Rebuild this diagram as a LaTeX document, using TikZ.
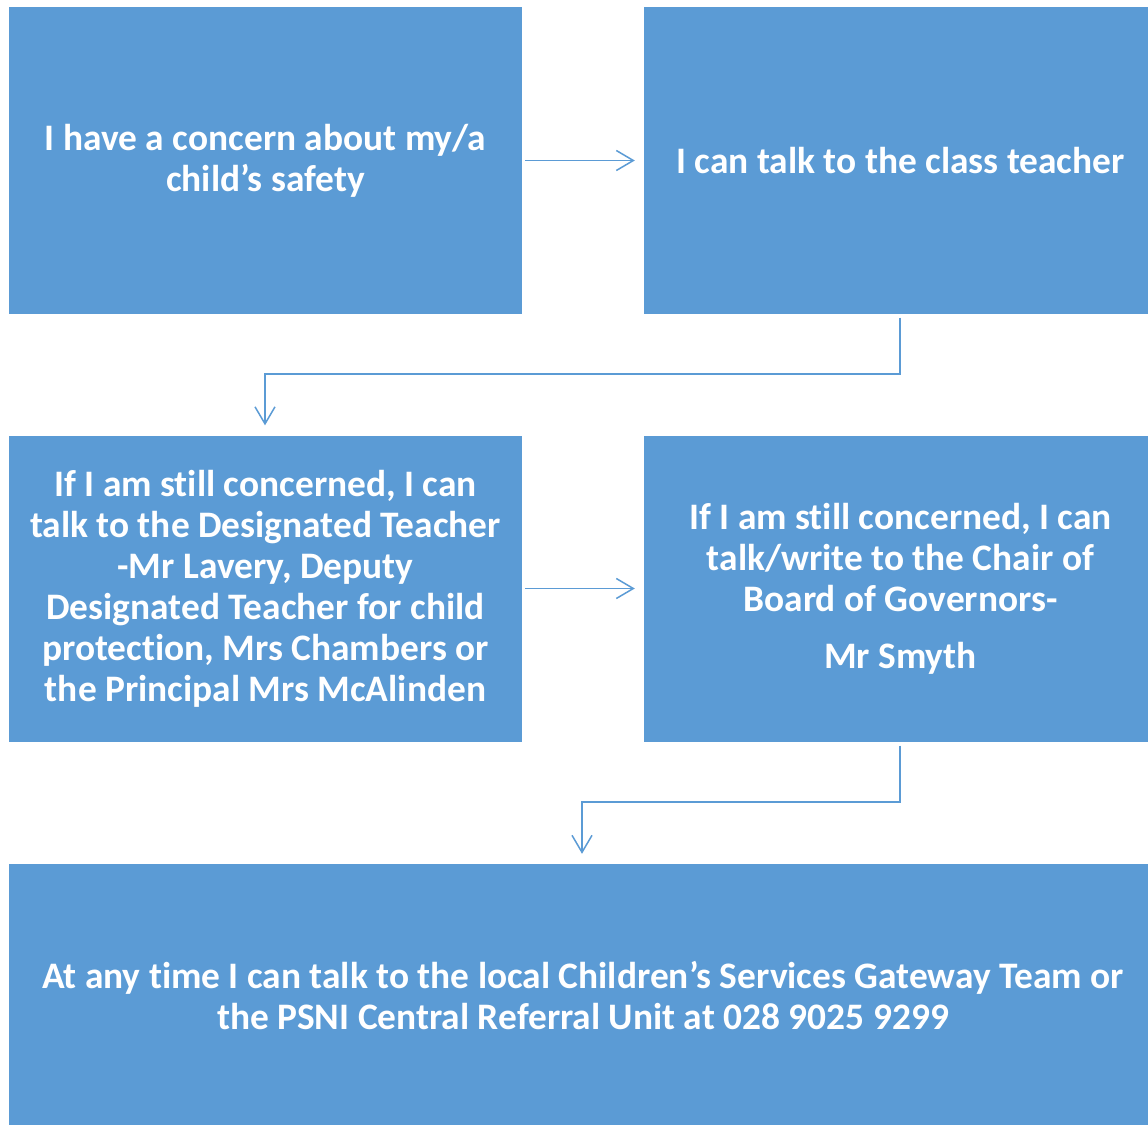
\documentclass[tikz,border=0pt]{standalone}
\usepackage{fontspec}
\setmainfont{Carlito}[Ligatures={NoCommon}]
\usetikzlibrary{arrows.meta}
\definecolor{boxblue}{HTML}{5B9BD5}
\definecolor{linkblue}{HTML}{5B9BD5}
\tikzset{
  box/.style={fill=boxblue, draw=none, text=white, inner sep=0pt, align=center,
    font=\fontsize{37.4}{41}\selectfont\bfseries},
  link/.style={draw=linkblue, line width=1.5pt, -{Straight Barb[length=17pt,width=20pt,line width=1.5pt]}}
}
\begin{document}
\begin{tikzpicture}[x=1pt,y=-1pt]
\useasboundingbox (0,0) rectangle (1148,1124);
\clip (0,0) rectangle (1148,1124);
\fill[white] (0,0) rectangle (1148,1124);
\node[box, minimum width=513pt, minimum height=306pt] (b1) at (265.5,160.5) {I have a concern about my/a\\child’s safety};
\node[box, minimum width=513pt, minimum height=306pt] (b2) at (900.5,160.5) {I can talk to the class teacher};
\node[box, minimum width=513pt, minimum height=306pt] (b3) at (265.5,588.5) {If I am still concerned, I can\\talk to the Designated Teacher\\-Mr Lavery, Deputy\\Designated Teacher for child\\protection, Mrs Chambers or\\the Principal Mrs McAlinden};
\node[box, minimum width=513pt, minimum height=306pt] (b4) at (900.5,588.5) {If I am still concerned, I can\\talk/write to the Chair of\\Board of Governors-\\[16pt]Mr Smyth};
\node[box, minimum width=1148pt, minimum height=264pt] (b5) at (583,996) {At any time I can talk to the local Children’s Services Gateway Team or\\the PSNI Central Referral Unit at 028 9025 9299};
\coordinate (c1) at (900,374);
\coordinate (c2) at (265,374);
\coordinate (c3) at (900,802);
\coordinate (c4) at (582,802);
\draw[link] ([xshift=3pt]b1.east) -- ([xshift=-9pt]b2.west |- b1.east);
\draw[link] ([yshift=-4pt]b2.south -| c1) -- (c1) -- (c2) -- ([yshift=10pt]c2 |- b3.north);
\draw[link] ([xshift=3pt]b3.east) -- ([xshift=-9pt]b4.west |- b3.east);
\draw[link] ([yshift=-4pt]b4.south -| c3) -- (c3) -- (c4) -- ([yshift=10pt]c4 |- b5.north);
\end{tikzpicture}
\end{document}
